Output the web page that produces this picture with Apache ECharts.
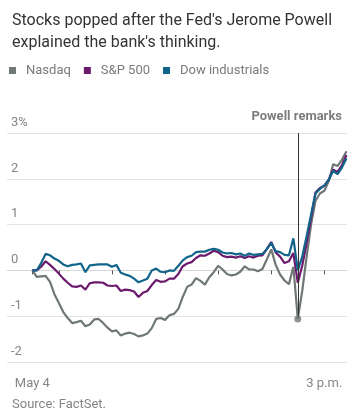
<!DOCTYPE html>
<html>
<head>
<meta charset="utf-8">
<script src="https://cdn.jsdelivr.net/npm/echarts@6/dist/echarts.min.js"></script>
<style>
html,body{margin:0;padding:0;background:#fff;}
#chart{width:355px;height:414px;}
</style>
</head>
<body>
<div id="chart"></div>
<script>
const times = [
  "09:30","09:35","09:40","09:45","09:50","09:55","10:00","10:05","10:10","10:15","10:20","10:25",
  "10:30","10:35","10:40","10:45","10:50","10:55","11:00","11:05","11:10","11:15","11:20","11:25",
  "11:30","11:35","11:40","11:45","11:50","11:55","12:00","12:05","12:10","12:15","12:20","12:25",
  "12:30","12:35","12:40","12:45","12:50","12:55","13:00","13:05","13:10","13:15","13:20","13:25",
  "13:30","13:35","13:40","13:45","13:50","13:55","14:00","14:05","14:10","14:15","14:20","14:25",
  "14:30","14:35","14:40","14:45","14:50","14:55","15:00","15:05","15:10","15:15","15:20","15:25"
];
const nasdaq = [
  0, -0.14, -0.13, -0.12, -0.25, -0.52, -0.71, -0.91, -1.04, -1.15,
  -1.13, -1.10, -1.22, -1.18, -1.07, -1.06, -1.15, -1.25, -1.33, -1.31,
  -1.42, -1.38, -1.36, -1.39, -1.44, -1.42, -1.38, -1.26, -1.06, -1.04,
  -1.08, -0.98, -0.95, -0.84, -0.58, -0.36, -0.31, -0.17, -0.23, -0.31,
  -0.15, -0.04, 0.10, 0.02, -0.08, -0.11, -0.09, -0.03, 0.09, 0.02,
  0.02, -0.02, 0.03, 0.24, 0.46, 0.12, -0.09, -0.22, -0.30, 0.08,
  -1.06, -0.45, 0.30, 1.00, 1.52, 1.68, 1.74, 1.95, 2.32, 2.28,
  2.42, 2.60
];
const sp500 = [
  0, 0, 0.08, 0.20, 0.12, 0.03, -0.07, -0.18, -0.27, -0.35,
  -0.36, -0.33, -0.42, -0.28, -0.26, -0.26, -0.27, -0.33, -0.34, -0.33,
  -0.45, -0.42, -0.43, -0.46, -0.58, -0.49, -0.45, -0.32, -0.21, -0.25,
  -0.24, -0.18, -0.18, -0.08, 0.09, 0.15, 0.18, 0.27, 0.33, 0.32,
  0.37, 0.43, 0.40, 0.32, 0.29, 0.30, 0.28, 0.31, 0.27, 0.31,
  0.28, 0.32, 0.33, 0.47, 0.62, 0.39, 0.30, 0.16, 0.20, 0.38,
  -0.27, 0.10, 0.60, 1.15, 1.70, 1.80, 1.85, 1.98, 2.20, 2.15,
  2.30, 2.52
];
const dow = [
  0, 0, 0.16, 0.36, 0.33, 0.26, 0.21, 0.13, 0.09, 0.12,
  0.13, 0.15, -0.04, 0.11, 0.12, 0.13, 0.13, 0.13, 0.08, 0.12,
  -0.05, -0.09, -0.12, -0.18, -0.26, -0.22, -0.18, 0.00, 0.04, -0.03,
  -0.04, 0.00, -0.01, 0.10, 0.22, 0.29, 0.32, 0.40, 0.41, 0.41,
  0.45, 0.47, 0.45, 0.39, 0.37, 0.38, 0.35, 0.37, 0.32, 0.37,
  0.34, 0.35, 0.36, 0.46, 0.60, 0.42, 0.40, 0.34, 0.33, 0.70,
  0.00, 0.30, 0.75, 1.22, 1.68, 1.78, 1.85, 1.98, 2.17, 2.10,
  2.25, 2.45
];
const seriesNames = ["Nasdaq", "S&P 500", "Dow industrials"];
const tickTimes = ["09:30","10:00","11:00","12:00","13:00","14:00","15:00"];
const labelTimes = ["09:30","15:00"];
const labelTexts = ["May 4","3 p.m."];
const powellTime = "14:30";
const yTicks = [-2, -1, 0, 1, 2, 3];

function toMin(t){ const p = t.split(":"); return (+p[0])*60 + (+p[1]); }
const xs = times.map(toMin);
const pair = arr => arr.map((v,i)=>[xs[i], v]);
const powellIdx = times.indexOf(powellTime);
const labelMap = {};
labelTimes.forEach((t,i)=>{ labelMap[toMin(t)] = labelTexts[i]; });

const FONT = "Roboto";
const GRAY = "#6f7777", PURPLE = "#6b1a6e", BLUE = "#12658a";

const chart = echarts.init(document.getElementById('chart'), null, {renderer:'canvas'});
chart.setOption({
  animation: false,
  textStyle: {fontFamily: FONT},
  title: [
    {text: "Stocks popped after the Fed's Jerome Powell\nexplained the bank's thinking.", left: 7, top: 5,
     textStyle: {fontFamily: FONT, fontSize: 16, fontWeight: 'normal', color: '#333', lineHeight: 22}},
    {text: "Powell remarks", right: 8, top: 105,
     textStyle: {fontFamily: FONT, fontSize: 13, fontWeight: 'bold', color: '#7c7c7c'}},
    {text: "Source: FactSet.", left: 7, top: 393,
     textStyle: {fontFamily: FONT, fontSize: 13, fontWeight: 'normal', color: '#858585'}}
  ],
  legend: {
    left: 9, top: 64, padding: 0, itemGap: 13,
    itemWidth: 7, itemHeight: 7, icon: 'rect',
    data: seriesNames,
    textStyle: {fontFamily: FONT, fontSize: 13, color: '#7a7a7a', padding: [0,0,0,5]}
  },
  grid: {left: 7, right: 8, top: 133, bottom: 52, containLabel: false},
  xAxis: {
    type: 'value', min: 541.4, max: 925.6,
    axisLine: {show: true, lineStyle: {color: '#d6d6d6', width: 1}},
    axisTick: {show: true, length: 4, lineStyle: {color: '#555'}, customValues: tickTimes.map(toMin)},
    axisLabel: {customValues: labelTimes.map(toMin), formatter: v => labelMap[v] || '',
      color: '#858585', fontSize: 13, fontFamily: FONT, margin: 15},
    splitLine: {show: false}
  },
  yAxis: {
    type: 'value', min: -2, max: 3, interval: 1,
    axisLine: {show: false}, axisTick: {show: false},
    axisLabel: {inside: true, margin: 4, verticalAlign: 'bottom', padding: [0,0,4,0],
      color: '#858585', fontSize: 13, fontFamily: FONT,
      formatter: v => v === 3 ? '3%' : String(v)},
    splitLine: {show: true, lineStyle: {width: 1,
      color: yTicks.map(t => t === 0 ? '#111' : '#e3e3e3')}}
  },
  series: [
    {name: seriesNames[0], type: 'line', data: pair(nasdaq), symbol: 'none', color: GRAY,
     lineStyle: {width: 2.2, color: GRAY}, z: 2},
    {name: seriesNames[1], type: 'line', data: pair(sp500), symbol: 'none', color: PURPLE,
     lineStyle: {width: 2.2, color: PURPLE}, z: 3},
    {name: seriesNames[2], type: 'line', data: pair(dow), symbol: 'none', color: BLUE,
     lineStyle: {width: 2.2, color: BLUE}, z: 4},
    {type: 'scatter', data: [[xs[powellIdx], nasdaq[powellIdx]]], symbolSize: 7,
     itemStyle: {color: GRAY}, z: 5, silent: true,
     markLine: {silent: true, symbol: ['none','none'], label: {show: false},
       lineStyle: {color: '#333', width: 1, type: 'solid'},
       data: [[{coord: [xs[powellIdx], 3]}, {coord: [xs[powellIdx], nasdaq[powellIdx]]}]]}}
  ]
});
</script>
</body>
</html>
